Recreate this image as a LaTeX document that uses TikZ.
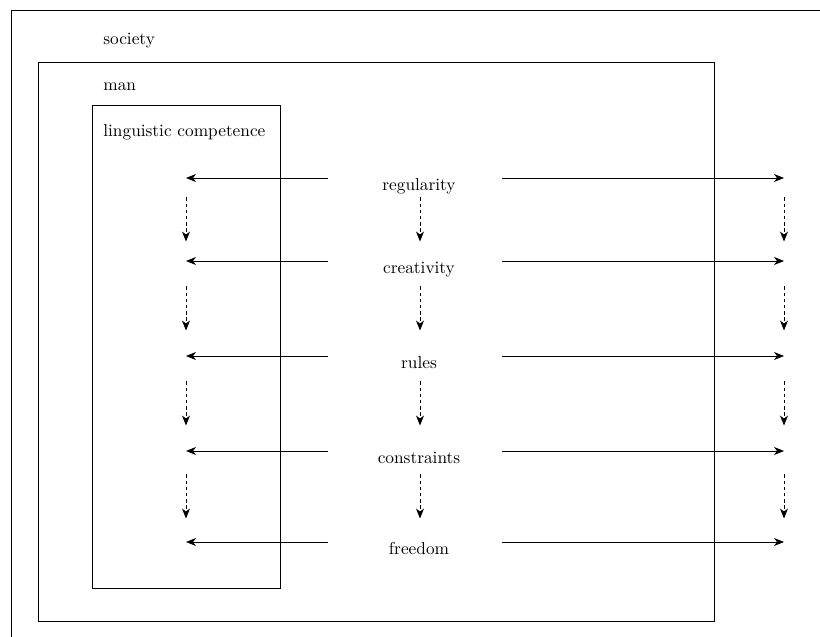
\documentclass[tikz,border=0pt]{standalone}
\usetikzlibrary{calc,arrows.meta}

\begin{document}
\begin{tikzpicture}[x=0.0195cm,y=-0.0195cm,
    every node/.append style={font=\fontsize{9.6}{11.5}\selectfont},
    frame/.style={draw,line width=0.75pt,rectangle,anchor=north west,inner sep=0pt},
    title/.style={anchor=base west,inner sep=0pt},
    term/.style={anchor=north,inner sep=0pt,text height=7pt,text depth=2pt,minimum width=173*0.0195cm},
    link/.style={line width=0.55pt,-{Stealth[length=5.5pt,width=4.4pt,inset=1.6pt]}},
    flow/.style={link,dash pattern=on 2pt off 1.4pt}
    ]

  \useasboundingbox (0,0) rectangle (820,637);
  \clip (0,0) rectangle (820,637);

  \node(society) [frame,minimum width=830*0.0195cm,minimum height=650*0.0195cm] at (11,10) {};
  \node(societyName) [title] at (103,45) {society};

  \node(man) [frame,minimum width=676*0.0195cm,minimum height=559*0.0195cm] at (38,62) {};
  \node(manName) [title] at (103,91) {man};

  \node(competence) [frame,minimum width=188*0.0195cm,minimum height=483*0.0195cm] at (92,105) {};
  \node(competenceName) [title] at (103,137) {linguistic competence};

  \foreach \name/\txt/\y in {reg/regularity/178,cre/creativity/261,rul/rules/356,con/constraints/451,fre/freedom/542} {
    \node(\name) [term] at (419,\y) {\txt};
    \coordinate(\name-l) at (186,\y);
    \coordinate(\name-r) at (784,\y);
    \draw[link] ([xshift=-4*0.0195cm]\name.north west) -- (\name-l);
    \draw[link] ([xshift=-4*0.0195cm]\name.north east) -- (\name-r);
  }

  \foreach \a/\b in {reg/cre,cre/rul,rul/con,con/fre} {
    \draw[flow] ($(\a-l)!.5!(\b-l)+(0,-22)$) -- ($(\a-l)!.5!(\b-l)+(0,22)$);
    \draw[flow] ($(\a.north)!.5!(\b.north)+(1,-22)$) -- ($(\a.north)!.5!(\b.north)+(1,22)$);
    \draw[flow] ($(\a-r)!.5!(\b-r)+(0,-22)$) -- ($(\a-r)!.5!(\b-r)+(0,22)$);
  }

\end{tikzpicture}
\end{document}
